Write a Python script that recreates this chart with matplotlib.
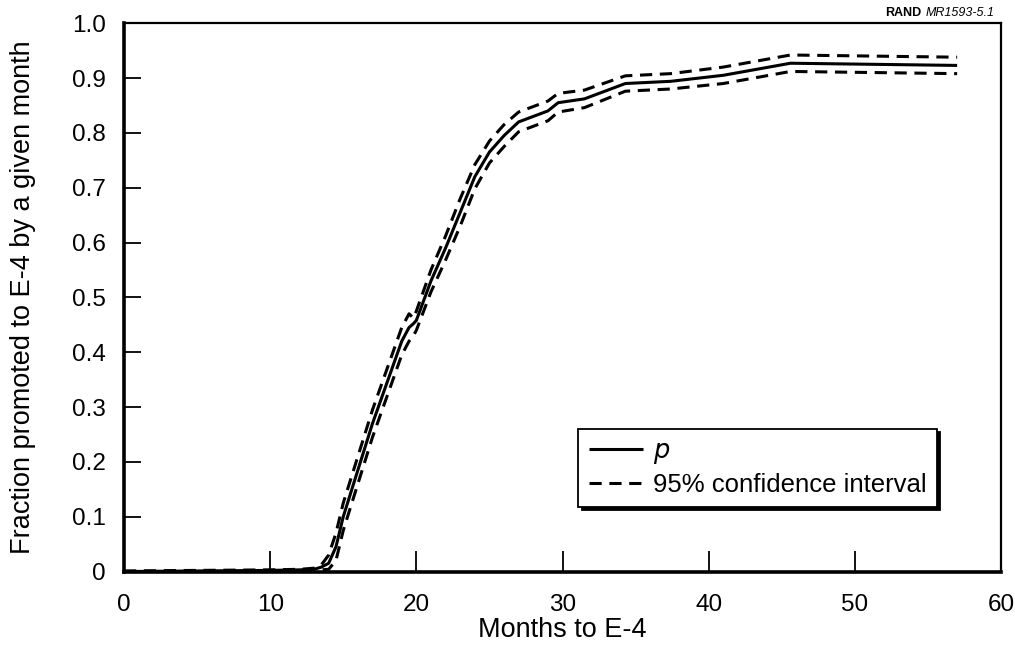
import numpy as np
import matplotlib.pyplot as plt

plt.rcParams['font.family'] = ['Liberation Sans', 'DejaVu Sans']

# months and estimated fraction promoted, with 95% CI bounds
months = [0, 5, 10, 12, 13, 13.5, 14, 14.5, 15, 16, 17, 18, 19, 19.5, 19.8, 20,
          21, 22, 23, 24, 25, 26, 27, 28, 29, 29.7, 31.5, 34.3, 37.4, 41, 45.6, 57]
p = [0.0, 0.001, 0.002, 0.003, 0.004, 0.008, 0.015, 0.045, 0.1, 0.185, 0.27,
     0.345, 0.42, 0.445, 0.452, 0.458, 0.53, 0.59, 0.655, 0.72, 0.765, 0.795,
     0.82, 0.83, 0.84, 0.855, 0.862, 0.89, 0.894, 0.905, 0.927, 0.923]
hi = [0.001, 0.002, 0.003, 0.004, 0.006, 0.012, 0.03, 0.07, 0.125, 0.21, 0.295,
      0.37, 0.445, 0.47, 0.462, 0.475, 0.55, 0.612, 0.68, 0.742, 0.785, 0.815,
      0.838, 0.848, 0.858, 0.872, 0.878, 0.904, 0.908, 0.92, 0.942, 0.938]
lo = [0.0, 0.0, 0.0, 0.001, 0.002, 0.003, 0.004, 0.02, 0.075, 0.16, 0.245,
      0.32, 0.395, 0.42, 0.43, 0.44, 0.51, 0.568, 0.63, 0.698, 0.745, 0.775,
      0.802, 0.812, 0.822, 0.838, 0.846, 0.876, 0.88, 0.89, 0.912, 0.908]

xticks = [0, 10, 20, 30, 40, 50, 60]
yticks = [0, 0.1, 0.2, 0.3, 0.4, 0.5, 0.6, 0.7, 0.8, 0.9, 1.0]
ylabels = ['0', '0.1', '0.2', '0.3', '0.4', '0.5', '0.6', '0.7', '0.8', '0.9', '1.0']

fig = plt.figure(figsize=(10.15, 6.61), dpi=100)
axe = fig.add_axes([0.1222, 0.1354, 0.864, 0.8295])

dash = (0, (4, 2.5))
axe.plot(months, p, '-', c='black', lw=2.2, label=r'$p$', solid_capstyle='butt')
axe.plot(months, hi, c='black', lw=2.2, linestyle=dash, label='95% confidence interval')
axe.plot(months, lo, c='black', lw=2.2, linestyle=dash)

axe.set_xlim(0, 60)
axe.set_ylim(0, 1.0)
axe.set_xticks(xticks)
axe.set_yticks(yticks)
axe.set_yticklabels(ylabels)
axe.tick_params(axis='x', direction='in', length=15, width=1.3, pad=16, labelsize=17.5)
axe.tick_params(axis='y', direction='in', length=12, width=1.3, pad=13, labelsize=17.5)

for s in ['left', 'bottom']:
    axe.spines[s].set_linewidth(2.6)
for s in ['top', 'right']:
    axe.spines[s].set_linewidth(1.6)

axe.set_xlabel('Months to E-4', fontsize=19.5, labelpad=1)
axe.set_ylabel('Fraction promoted to E-4 by a given month', fontsize=19.5, labelpad=26)

leg = axe.legend(loc='lower left', bbox_to_anchor=(0.518, 0.118), borderaxespad=0,
                 fontsize=18.5, fancybox=False, framealpha=1, edgecolor='black',
                 handlelength=2.1, handletextpad=0.4, labelspacing=0.25,
                 borderpad=0.4,
                 shadow={'color': 'black', 'alpha': 1, 'ox': 2.5, 'oy': -2.5})
leg.get_frame().set_linewidth(1.3)
leg.get_texts()[0].set_fontstyle('italic')

# source tag top right
t2 = fig.text(0.98, 0.99, 'MR1593-5.1', fontsize=9, style='italic', ha='right', va='top')
fig.canvas.draw()
bb = t2.get_window_extent()
fig.text((bb.x0 - 4) / fig.bbox.width, 0.99, 'RAND', fontsize=9, weight='bold',
         ha='right', va='top')

fig.savefig('out.png', dpi=100)
